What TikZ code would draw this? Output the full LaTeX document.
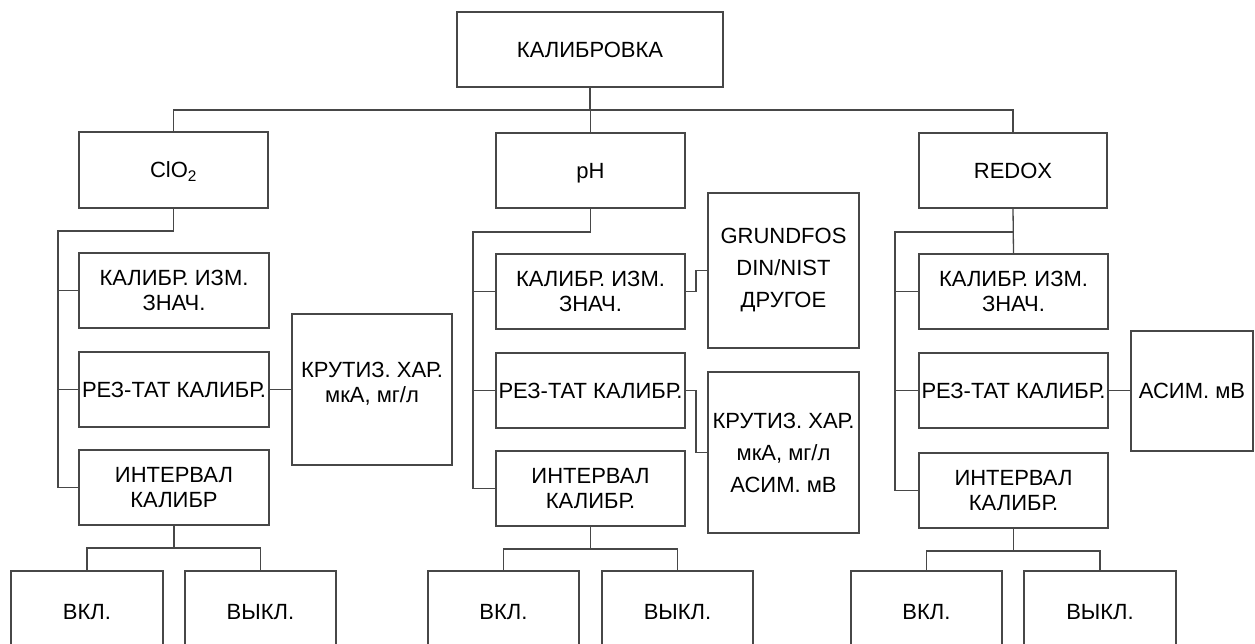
\documentclass[tikz,border=0pt]{standalone}
\usepackage{fontspec}
\setmainfont{Liberation Sans}
\begin{document}
\begin{tikzpicture}[x=1pt,y=-1pt,
  box/.style={draw=black!72, line width=1.3pt, fill=white, inner sep=0pt, outer sep=0pt,
    align=center, text=black, font=\fontsize{22}{25}\selectfont},
  one/.style={text height=15.8pt, text depth=0pt},
  tall/.style={font=\fontsize{22}{32}\selectfont},
  wire/.style={draw=black!72, line width=1.3pt}]
\useasboundingbox (0,0) rectangle (1255,644);
\clip (0,0) rectangle (1255,644);

% root
\node[box, one, minimum width=266, minimum height=75] (top) at (590,49.5) {КАЛИБРОВКА};

% first level
\node[box, one, minimum width=189, minimum height=76] (clo) at (173.5,170) {ClO\textsubscript{2}};
\node[box, one, minimum width=189, minimum height=75] (ph) at (590.5,170.5) {pH};
\node[box, one, minimum width=188, minimum height=75] (redox) at (1013,170.5) {REDOX};

% ClO2 branch
\node[box, minimum width=190, minimum height=75] (ckal) at (174,290.5) {КАЛИБР. ИЗМ.\\ЗНАЧ.};
\node[box, one, minimum width=190, minimum height=75] (crez) at (174,389.5) {РЕЗ-ТАТ КАЛИБР.};
\node[box, minimum width=190, minimum height=75] (cint) at (174,487.5) {ИНТЕРВАЛ\\КАЛИБР};
\node[box, text height=29pt, minimum width=160, minimum height=151] (ckru) at (372,389.5) {КРУТИЗ. ХАР.\\мкА, мг/л};
\node[box, one, minimum width=152, minimum height=82] (con) at (87,612) {ВКЛ.};
\node[box, one, minimum width=151, minimum height=82] (coff) at (260.5,612) {ВЫКЛ.};

% pH branch
\node[box, minimum width=189, minimum height=75] (pkal) at (590.5,291.5) {КАЛИБР. ИЗМ.\\ЗНАЧ.};
\node[box, one, minimum width=189, minimum height=75] (prez) at (590.5,390.5) {РЕЗ-ТАТ КАЛИБР.};
\node[box, minimum width=189, minimum height=75] (pint) at (590.5,488.5) {ИНТЕРВАЛ\\КАЛИБР.};
\node[box, tall, minimum width=151, minimum height=155] (grund) at (783.5,270.5) {GRUNDFOS\\DIN/NIST\\ДРУГОЕ};
\node[box, tall, minimum width=151, minimum height=161] (pkru) at (783.5,452.5) {КРУТИЗ. ХАР.\\мкА, мг/л\\АСИМ. мВ};
\node[box, one, minimum width=151, minimum height=82] (pon) at (503.5,612) {ВКЛ.};
\node[box, one, minimum width=151, minimum height=82] (poff) at (677.5,612) {ВЫКЛ.};

% REDOX branch
\node[box, minimum width=189, minimum height=75] (rkal) at (1013.5,291.5) {КАЛИБР. ИЗМ.\\ЗНАЧ.};
\node[box, one, minimum width=189, minimum height=75] (rrez) at (1013.5,390.5) {РЕЗ-ТАТ КАЛИБР.};
\node[box, minimum width=189, minimum height=75] (rint) at (1013.5,490.5) {ИНТЕРВАЛ\\КАЛИБР.};
\node[box, one, minimum width=122, minimum height=120] (asim) at (1192,391) {АСИМ. мВ};
\node[box, one, minimum width=151, minimum height=82] (ron) at (926.5,612) {ВКЛ.};
\node[box, one, minimum width=152, minimum height=82] (roff) at (1100,612) {ВЫКЛ.};

% junction points
\coordinate (jt) at (590,110);
\coordinate (cj) at (58,231);
\coordinate (pj) at (473,232);
\coordinate (rj) at (895,232);
\coordinate (cf) at (174,548);
\coordinate (pf) at (590.5,549);
\coordinate (rf) at (1013.5,551);

% root to first level
\draw[wire] (top.south) -- (jt);
\draw[wire] (clo.north) |- (jt) -| (redox.north);
\draw[wire] (ph.north) -- (ph.north |- jt);

% ClO2 connectors
\draw[wire] (clo.south) |- (cj) |- (cint.west);
\draw[wire] (ckal.west) -- (ckal.west -| cj);
\draw[wire] (crez.west) -- (crez.west -| cj);
\draw[wire] (crez.east) -- (crez.east -| ckru.west);
\draw[wire] (cint.south) -- (cf);
\draw[wire] (con.north) |- (cf) -| (coff.north);

% pH connectors
\draw[wire] (ph.south) |- (pj) |- (pint.west);
\draw[wire] (pkal.west) -- (pkal.west -| pj);
\draw[wire] (prez.west) -- (prez.west -| pj);
\draw[wire] (pkal.east) -- ++(11,0) |- (grund.west);
\draw[wire] (prez.east) -- ++(11,0) |- (pkru.west);
\draw[wire] (pint.south) -- (pf);
\draw[wire] (pon.north) |- (pf) -| (poff.north);

% REDOX connectors
\draw[wire] (redox.south) -- (rkal.north);
\draw[wire] (redox.south |- rj) -- (rj) |- (rint.west);
\draw[wire] (rkal.west) -- (rkal.west -| rj);
\draw[wire] (rrez.west) -- (rrez.west -| rj);
\draw[wire] (rrez.east) -- (rrez.east -| asim.west);
\draw[wire] (rint.south) -- (rf);
\draw[wire] (ron.north) |- (rf) -| (roff.north);
\end{tikzpicture}
\end{document}
